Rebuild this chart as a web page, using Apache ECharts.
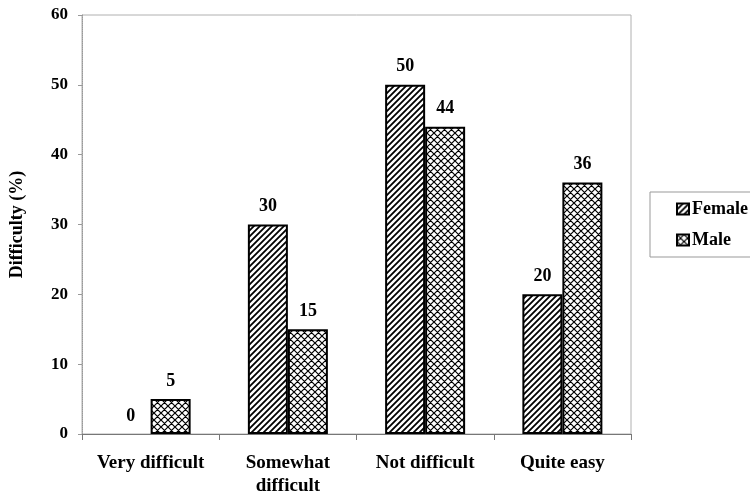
<!DOCTYPE html>
<html>
<head>
<meta charset="utf-8">
<script src="https://cdn.jsdelivr.net/npm/echarts@6/dist/echarts.min.js"></script>
<style>
  html, body { margin: 0; padding: 0; background: #fff; }
  #chart { width: 750px; height: 495px; }
</style>
</head>
<body>
<div id="chart"></div>
<script>
const categories = ["Very difficult", "Somewhat\ndifficult", "Not difficult", "Quite easy"]
const femaleValues = [0, 30, 50, 20]
const maleValues = [5, 15, 44, 36]
const yTicks = [0, 10, 20, 30, 40, 50, 60]

const FONT = "Liberation Serif"

// hatch fill: "///" stripes
function stripePattern() {
  const s = 6
  const c = document.createElement("canvas")
  c.width = s; c.height = s
  const ctx = c.getContext("2d")
  ctx.fillStyle = "#fff"
  ctx.fillRect(0, 0, s, s)
  ctx.strokeStyle = "#000"
  ctx.lineWidth = 1.8
  ctx.beginPath()
  ctx.moveTo(0, s); ctx.lineTo(s, 0)
  ctx.moveTo(-1, 1); ctx.lineTo(1, -1)
  ctx.moveTo(s - 1, s + 1); ctx.lineTo(s + 1, s - 1)
  ctx.stroke()
  return c
}

// cross hatch fill
function crossPattern() {
  const s = 7
  const c = document.createElement("canvas")
  c.width = s; c.height = s
  const ctx = c.getContext("2d")
  ctx.fillStyle = "#fff"
  ctx.fillRect(0, 0, s, s)
  ctx.strokeStyle = "#000"
  ctx.lineWidth = 1.2
  ctx.beginPath()
  ctx.moveTo(0, s); ctx.lineTo(s, 0)
  ctx.moveTo(-1, 1); ctx.lineTo(1, -1)
  ctx.moveTo(s - 1, s + 1); ctx.lineTo(s + 1, s - 1)
  ctx.moveTo(0, 0); ctx.lineTo(s, s)
  ctx.moveTo(-1, s - 1); ctx.lineTo(1, s + 1)
  ctx.moveTo(s - 1, -1); ctx.lineTo(s + 1, 1)
  ctx.stroke()
  return c
}

// zero bars get no outline, like the original
const barData = (values) => values.map((v) => (v === 0 ? { value: v, itemStyle: { borderWidth: 0 } } : v))

const chart = echarts.init(document.getElementById("chart"), null, { renderer: "canvas" })

const valueLabel = {
  show: true,
  position: "top",
  distance: 9,
  color: "#000",
  fontFamily: FONT,
  fontWeight: "bold",
  fontSize: 18
}

chart.setOption({
  backgroundColor: "#fff",
  animation: false,
  grid: {
    left: 82,
    right: 119,
    top: 15,
    bottom: 61,
    outerBoundsMode: "none",
    containLabel: false,
    show: true,
    borderColor: "#b0b0b0",
    borderWidth: 1
  },
  legend: {
    orient: "vertical",
    left: 650,
    top: 192,
    padding: [8, 20, 8, 26],
    itemGap: 13,
    itemWidth: 12,
    itemHeight: 11,
    borderColor: "#999",
    borderWidth: 1,
    icon: "rect",
    textStyle: { color: "#000", fontFamily: FONT, fontWeight: "bold", fontSize: 18, padding: [0, 0, 0, -2] },
    data: ["Female", "Male"]
  },
  xAxis: {
    type: "category",
    data: categories,
    axisLine: { lineStyle: { color: "#777", width: 1 } },
    axisTick: { show: true, length: 6, lineStyle: { color: "#777" } },
    axisLabel: {
      interval: 0,
      color: "#000",
      fontFamily: FONT,
      fontWeight: "bold",
      fontSize: 19,
      lineHeight: 23,
      margin: 18
    }
  },
  yAxis: {
    type: "value",
    min: 0,
    max: 60,
    interval: 10,
    name: "Difficulty (%)",
    nameLocation: "middle",
    nameGap: 56,
    nameTextStyle: { color: "#000", fontFamily: FONT, fontWeight: "bold", fontSize: 18 },
    axisLine: { show: true, lineStyle: { color: "#999", type: "dotted" } },
    axisTick: { show: true, length: 4, lineStyle: { color: "#999" } },
    splitLine: { show: false },
    axisLabel: {
      color: "#000",
      fontFamily: FONT,
      fontWeight: "bold",
      fontSize: 17,
      margin: 14,
      formatter: (v) => (yTicks.includes(v) ? String(v) : "")
    }
  },
  series: [
    {
      name: "Female",
      type: "bar",
      data: barData(femaleValues),
      barWidth: 40,
      barGap: "0%",
      itemStyle: {
        color: { image: stripePattern(), repeat: "repeat" },
        borderColor: "#000",
        borderWidth: 2
      },
      label: valueLabel
    },
    {
      name: "Male",
      type: "bar",
      data: barData(maleValues),
      barWidth: 40,
      barGap: "0%",
      itemStyle: {
        color: { image: crossPattern(), repeat: "repeat" },
        borderColor: "#000",
        borderWidth: 2
      },
      label: valueLabel
    }
  ]
})
</script>
</body>
</html>
